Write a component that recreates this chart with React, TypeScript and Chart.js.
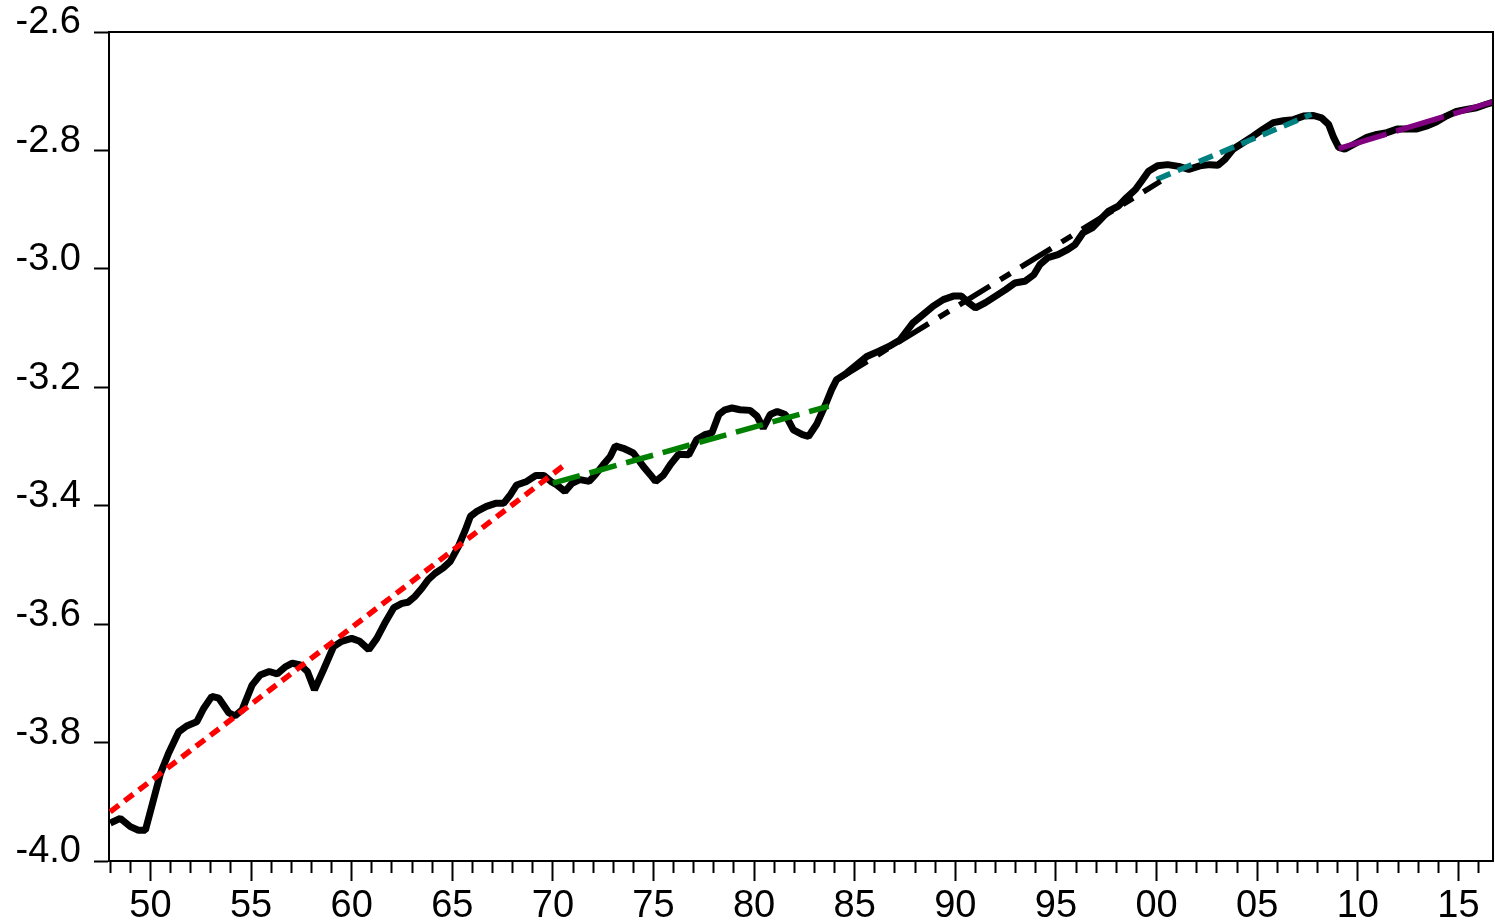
import React, { useEffect, useRef } from 'react';
import { Chart, registerables } from 'chart.js';

Chart.register(...registerables);

// Main series (log ratio)
const years = [
  1948.0, 1948.5, 1949.0, 1949.4, 1949.75, 1950.1, 1950.5, 1950.9, 1951.4, 1951.8,
  1952.3, 1952.65, 1953.05, 1953.4, 1953.9, 1954.2, 1954.55, 1955.05, 1955.45, 1955.9,
  1956.3, 1956.7, 1957.05, 1957.45, 1957.8, 1958.15, 1958.6, 1959.1, 1959.5, 1960.0,
  1960.4, 1960.85, 1961.25, 1961.7, 1962.1, 1962.5, 1962.8, 1963.15, 1963.5, 1963.8,
  1964.15, 1964.55, 1964.9, 1965.3, 1965.65, 1965.9, 1966.2, 1966.7, 1967.15, 1967.55,
  1967.9, 1968.2, 1968.7, 1969.15, 1969.55, 1969.9, 1970.2, 1970.6, 1970.95, 1971.35,
  1971.8, 1972.1, 1972.5, 1972.85, 1973.1, 1973.5, 1974.0, 1974.5, 1974.85, 1975.1,
  1975.5, 1975.85, 1976.25, 1976.75, 1977.15, 1977.55, 1977.9, 1978.25, 1978.55, 1978.9,
  1979.3, 1979.8, 1980.15, 1980.45, 1980.8, 1981.15, 1981.55, 1981.95, 1982.4, 1982.7,
  1983.1, 1983.55, 1983.85, 1984.1, 1984.6, 1985.1, 1985.6, 1986.2, 1986.7, 1987.25,
  1987.9, 1988.4, 1988.9, 1989.4, 1989.9, 1990.3, 1990.65, 1991.0, 1991.5, 1992.0,
  1992.5, 1992.95, 1993.45, 1993.9, 1994.2, 1994.6, 1995.1, 1995.6, 1995.95, 1996.35,
  1996.8, 1997.2, 1997.6, 1998.1, 1998.5, 1998.95, 1999.25, 1999.6, 2000.05, 2000.55,
  2001.1, 2001.6, 2002.15, 2002.65, 2003.05, 2003.4, 2003.8, 2004.3, 2004.8, 2005.3,
  2005.8, 2006.3, 2006.8, 2007.3, 2007.8, 2008.2, 2008.55, 2008.8, 2009.05, 2009.35,
  2009.95, 2010.45, 2010.95, 2011.45, 2011.95, 2012.45, 2012.9, 2013.4, 2013.9, 2014.4,
  2014.9, 2015.4, 2015.9, 2016.4, 2016.7,
];
const values = [
  -3.936, -3.928, -3.942, -3.948, -3.948, -3.903, -3.852, -3.818, -3.782, -3.772,
  -3.765, -3.742, -3.722, -3.725, -3.750, -3.755, -3.745, -3.703, -3.686, -3.680,
  -3.684, -3.672, -3.666, -3.669, -3.680, -3.711, -3.677, -3.638, -3.629, -3.624,
  -3.629, -3.643, -3.624, -3.595, -3.572, -3.565, -3.563, -3.553, -3.539, -3.525,
  -3.514, -3.505, -3.494, -3.469, -3.441, -3.418, -3.410, -3.401, -3.396, -3.396,
  -3.381, -3.365, -3.359, -3.349, -3.349, -3.359, -3.365, -3.376, -3.362, -3.356,
  -3.359, -3.348, -3.331, -3.317, -3.299, -3.303, -3.311, -3.334, -3.348, -3.359,
  -3.348, -3.330, -3.313, -3.314, -3.288, -3.280, -3.277, -3.246, -3.238, -3.235,
  -3.238, -3.239, -3.249, -3.269, -3.246, -3.241, -3.246, -3.272, -3.280, -3.283,
  -3.263, -3.229, -3.204, -3.187, -3.176, -3.162, -3.148, -3.139, -3.131, -3.120,
  -3.091, -3.077, -3.063, -3.052, -3.046, -3.046, -3.057, -3.066, -3.057, -3.046,
  -3.035, -3.024, -3.021, -3.010, -2.993, -2.981, -2.976, -2.967, -2.959, -2.939,
  -2.931, -2.917, -2.903, -2.894, -2.880, -2.866, -2.852, -2.835, -2.826, -2.824,
  -2.827, -2.832, -2.826, -2.824, -2.825, -2.815, -2.798, -2.787, -2.776, -2.764,
  -2.753, -2.750, -2.748, -2.742, -2.741, -2.745, -2.756, -2.778, -2.795, -2.798,
  -2.787, -2.778, -2.773, -2.770, -2.764, -2.764, -2.764, -2.759, -2.752, -2.742,
  -2.734, -2.731, -2.728, -2.722, -2.719,
];

// Segment trend lines (start / end)
const redTrendYears = [1948.0, 1970.7];
const redTrendValues = [-3.917, -3.328];
const greenTrendYears = [1970.0, 1983.7];
const greenTrendValues = [-3.362, -3.232];
const blackTrendYears = [1984.1, 2000.2];
const blackTrendValues = [-3.188, -2.852];
const tealTrendYears = [2000.0, 2007.7];
const tealTrendValues = [-2.849, -2.739];
const purpleTrendYears = [2009.05, 2016.7];
const purpleTrendValues = [-2.797, -2.718];

const X_MIN = 1947.94;
const X_MAX = 2016.72;
const Y_MIN = -4.0;
const Y_MAX = -2.6;

const FONT = 'Liberation Sans, Arial, Helvetica, sans-serif';

const toXY = (xs: number[], ys: number[]) => xs.map((x, i) => ({ x, y: ys[i] }));

export default function App() {
  const ref = useRef<HTMLCanvasElement | null>(null);

  useEffect(() => {
    if (!ref.current) return;
    const framePlugin = {
      id: 'frame',
      afterDatasetsDraw(chart: any) {
        const { ctx, chartArea: a } = chart;
        ctx.save();
        ctx.strokeStyle = '#000';
        ctx.lineWidth = 2;
        ctx.beginPath();
        ctx.moveTo(a.left, a.top);
        ctx.lineTo(a.right, a.top);
        ctx.lineTo(a.right, a.bottom);
        ctx.stroke();
        ctx.restore();
      },
    };

    const trend = (xs: number[], ys: number[], color: string, dash: number[]) => ({
      data: toXY(xs, ys),
      borderColor: color,
      borderWidth: 5.5,
      borderDash: dash,
      borderCapStyle: 'butt',
      pointRadius: 0,
      tension: 0,
      order: 1,
    });

    const chart = new Chart(ref.current, {
      type: 'line',
      data: {
        datasets: [
          {
            data: toXY(years, values),
            borderColor: '#000',
            borderWidth: 7,
            borderJoinStyle: 'bevel',
            pointRadius: 0,
            tension: 0,
            order: 10,
          },
          trend(redTrendYears, redTrendValues, '#ff0000', [11, 7]),
          trend(greenTrendYears, greenTrendValues, '#008000', [28, 10]),
          trend(blackTrendYears, blackTrendValues, '#000000', [36, 12, 12, 12]),
          trend(tealTrendYears, tealTrendValues, '#008080', [15, 8]),
          trend(purpleTrendYears, purpleTrendValues, '#800080', [50, 10]),
        ] as any,
      },
      options: {
        responsive: false,
        devicePixelRatio: 1,
        animation: false,
        layout: { padding: { top: 32, right: 2, bottom: 0, left: 0 } },
        plugins: { legend: { display: false }, tooltip: { enabled: false } },
        scales: {
          x: {
            type: 'linear',
            position: 'bottom',
            min: X_MIN,
            max: X_MAX,
            afterFit: (s: any) => {
              s.height = 63;
              s.paddingLeft = 0;
              s.paddingRight = 0;
            },
            ticks: {
              stepSize: 1,
              autoSkip: false,
              includeBounds: false,
              maxRotation: 0,
              minRotation: 0,
              padding: 3,
              color: '#000',
              font: { family: FONT, size: 38 },
              callback: (v: any) => {
                const n = Math.round(Number(v));
                return n % 5 === 0 ? String(n % 100).padStart(2, '0') : '';
              },
            },
            grid: {
              drawOnChartArea: false,
              drawTicks: true,
              tickLength: 20,
              tickWidth: 2,
              tickColor: '#000',
              tickBorderDash: (ctx: any) => {
                const n = Math.round(Number(ctx.tick?.value));
                return n % 5 === 0 ? [] : [11, 100];
              },
            },
            border: { display: true, color: '#000', width: 2 },
          },
          y: {
            type: 'linear',
            min: Y_MIN,
            max: Y_MAX,
            afterFit: (s: any) => {
              s.width = 109;
              s.paddingTop = 0;
              s.paddingBottom = 0;
            },
            ticks: {
              stepSize: 0.2,
              padding: 13,
              labelOffset: -9,
              color: '#000',
              font: { family: FONT, size: 38 },
              callback: (v: any) => Number(v).toFixed(1),
            },
            grid: {
              drawOnChartArea: false,
              tickLength: 15,
              tickWidth: 2,
              tickColor: '#000',
            },
            border: { display: true, color: '#000', width: 2 },
          },
        },
      } as any,
      plugins: [framePlugin],
    });
    return () => chart.destroy();
  }, []);

  return (
    <div style={{ position: 'absolute', left: 0, top: 0, width: 1495, height: 924, background: '#fff' }}>
      <canvas ref={ref} width={1495} height={924} style={{ display: 'block' }} />
    </div>
  );
}
